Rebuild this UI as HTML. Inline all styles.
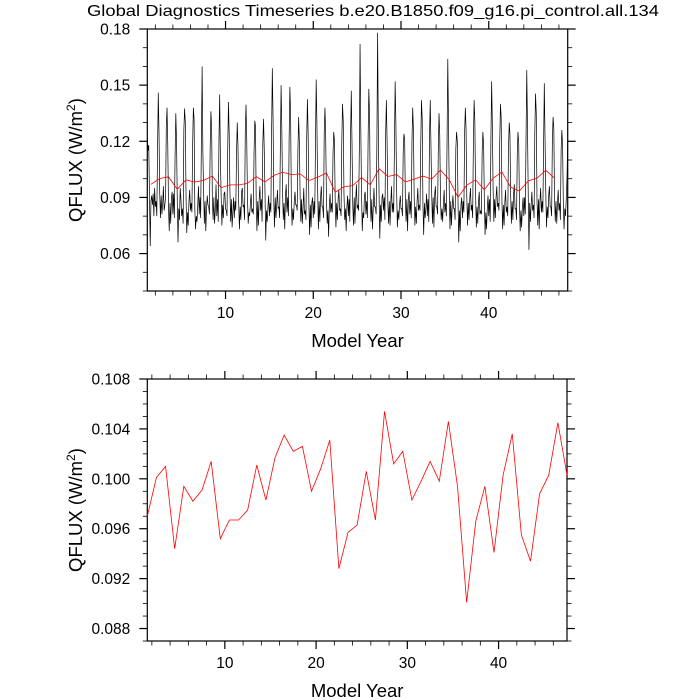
<!DOCTYPE html>
<html><head><meta charset="utf-8"><style>
html,body{margin:0;padding:0;background:#fff;}
svg{display:block;font-family:"Liberation Sans",Arial,sans-serif;}
</style></head><body>
<svg id="chart" width="700" height="700" viewBox="0 0 700 700">
<text x="373" y="16" text-anchor="middle" font-size="16" textLength="572" lengthAdjust="spacingAndGlyphs">Global Diagnostics Timeseries b.e20.B1850.f09_g16.pi_control.all.134</text>
<g id="topPanel"></g>
<g id="botPanel"></g>
</svg>
<script>
const annualYears = [];
for (let i = 1; i <= 47; i++) annualYears.push(i + 0.5);
const annualValues = [0.0970,0.1001,0.1010,0.0944,0.0994,0.0982,0.0991,0.1014,0.0952,0.0967,0.0967,0.0975,0.1011,0.0983,0.1017,0.1035,0.1022,0.1026,0.0990,0.1008,0.1031,0.0928,0.0957,0.0963,0.1006,0.0967,0.1054,0.1012,0.1022,0.0983,0.0998,0.1014,0.0998,0.1046,0.0994,0.0901,0.0966,0.0994,0.0941,0.1003,0.1036,0.0955,0.0934,0.0988,0.1003,0.1045,0.1003];
const monthlyValues = [
.122,.115,.118,.090,.064,.088,.091,.086,.092,.080,.095,.085,
.088,.080,.115,.146,.125,.092,.079,.091,.081,.086,.096,.083,
.086,.090,.128,.138,.118,.085,.072,.087,.076,.090,.093,.081,
.092,.079,.112,.135,.120,.088,.066,.084,.078,.095,.089,.080,
.084,.076,.126,.1375,.130,.090,.071,.082,.075,.088,.094,.083,
.087,.082,.118,.138,.132,.084,.073,.080,.077,.086,.096,.081,
.090,.079,.121,.160,.114,.093,.076,.088,.072,.084,.091,.086,
.085,.081,.117,.136,.127,.089,.078,.090,.076,.083,.097,.080,
.089,.077,.120,.145,.110,.091,.075,.086,.079,.092,.093,.084,
.083,.080,.116,.141,.124,.094,.077,.089,.074,.082,.090,.079,
.088,.083,.112,.130,.118,.087,.073,.085,.078,.093,.095,.085,
.086,.078,.125,.1395,.121,.090,.076,.082,.080,.087,.092,.082,
.084,.081,.114,.131,.128,.086,.072,.088,.075,.089,.096,.083,
.089,.077,.119,.132,.115,.092,.067,.083,.077,.085,.091,.080,
.087,.082,.124,.159,.133,.088,.074,.090,.079,.086,.094,.084,
.085,.079,.118,.150,.126,.093,.078,.087,.073,.091,.097,.082,
.090,.080,.122,.149,.135,.089,.075,.084,.078,.088,.093,.086,
.086,.083,.115,.133,.119,.091,.077,.089,.076,.084,.095,.081,
.083,.078,.121,.1425,.124,.087,.070,.086,.074,.087,.090,.079,
.088,.081,.117,.153,.129,.094,.073,.088,.077,.090,.096,.085,
.085,.079,.125,.138,.122,.090,.076,.083,.069,.086,.092,.082,
.087,.082,.113,.125,.120,.088,.074,.087,.078,.089,.094,.083,
.084,.080,.119,.140,.131,.092,.078,.084,.072,.085,.091,.080,
.089,.077,.123,.147,.118,.086,.075,.090,.076,.088,.097,.084,
.086,.083,.116,.172,.127,.093,.072,.082,.079,.091,.093,.081,
.088,.079,.121,.148,.134,.089,.077,.089,.073,.084,.095,.085,
.085,.081,.118,.178,.125,.091,.068,.086,.077,.090,.092,.083,
.090,.078,.124,.142,.119,.087,.076,.088,.075,.087,.096,.082,
.087,.082,.117,.152,.130,.094,.074,.083,.078,.086,.091,.084,
.084,.080,.114,.124,.121,.088,.077,.089,.072,.089,.093,.081,
.088,.079,.120,.138,.126,.091,.075,.085,.076,.088,.095,.083,
.086,.083,.118,.142,.132,.086,.070,.087,.079,.084,.092,.080,
.089,.077,.123,.142,.117,.092,.076,.090,.074,.091,.096,.085,
.085,.081,.115,.135,.123,.089,.078,.084,.077,.087,.094,.082,
.087,.080,.121,.164,.129,.093,.073,.088,.075,.085,.091,.084,
.084,.078,.116,.125,.120,.087,.066,.083,.072,.086,.090,.079,
.088,.082,.124,.138,.126,.090,.075,.087,.078,.089,.095,.083,
.086,.079,.119,.142,.131,.092,.074,.085,.076,.088,.093,.081,
.083,.081,.114,.125,.118,.088,.070,.082,.073,.084,.091,.080,
.089,.077,.122,.152,.127,.094,.077,.089,.079,.090,.096,.085,
.087,.083,.118,.140,.133,.089,.073,.086,.075,.087,.094,.082,
.085,.080,.116,.130,.124,.091,.076,.088,.078,.092,.097,.084,
.084,.078,.113,.125,.119,.086,.072,.083,.074,.085,.090,.080,
.090,.081,.121,.158,.128,.092,.062,.087,.077,.086,.093,.083,
.086,.079,.124,.1455,.135,.089,.075,.089,.073,.088,.095,.082,
.088,.082,.117,.151,.122,.093,.074,.085,.079,.091,.096,.085,
.085,.080,.120,.133,.127,.090,.077,.088,.076,.087,.094,.083,
.087,.078,.115,.126,.118,.088,.073,.084,.080,.089,.100,.120];
const topYTicks = ["0.06","0.09","0.12","0.15","0.18"];
const botYTicks = ["0.088","0.092","0.096","0.100","0.104","0.108"];
const xTickLabels = ["10","20","30","40"];

const NS = "http://www.w3.org/2000/svg";
function mk(tag, attrs, parent){const e=document.createElementNS(NS,tag);for(const k in attrs)e.setAttribute(k,attrs[k]);parent.appendChild(e);return e;}

function panel(g, box, xdom, ydom, yTicks, yMinorStep, xMinorStep, prefix){
  const sx=v=>box.l+(v-xdom[0])/(xdom[1]-xdom[0])*(box.r-box.l);
  const sy=v=>box.b-(v-ydom[0])/(ydom[1]-ydom[0])*(box.b-box.t);
  const fr=mk("rect",{x:box.l,y:box.t,width:box.r-box.l,height:box.b-box.t,fill:"none",stroke:"#000","stroke-width":1.2},g);
  
  
  for(let v=2; v<=xdom[1]; v+=xMinorStep){
    if(v<xdom[0])continue;
    const major = v%10===0;
    const len = major?8:4.5, x=sx(v);
    const t1=mk("line",{x1:x,x2:x,y1:box.b,y2:box.b+len,stroke:"#000","stroke-width":major?1.2:0.8},g);
    
    
    const t2=mk("line",{x1:x,x2:x,y1:box.t,y2:box.t-len,stroke:"#000","stroke-width":major?1.2:0.8},g);
    
    
  }
  xTickLabels.forEach(s=>{
    const t=mk("text",{x:sx(+s),y:box.b+27,"text-anchor":"middle","font-size":15.5},g);
    t.textContent=s;
    
    
  });
  const n=Math.round((ydom[1]-ydom[0])/yMinorStep);
  for(let i=0;i<=n;i++){
    const v=ydom[0]+i*yMinorStep;
    const major=yTicks.some(s=>Math.abs(+s-v)<yMinorStep/10);
    const len=major?8:4.5, y=sy(v);
    const a=mk("line",{x1:box.l,x2:box.l-len,y1:y,y2:y,stroke:"#000","stroke-width":major?1.2:0.8},g);
    
    
    const b=mk("line",{x1:box.r,x2:box.r+len,y1:y,y2:y,stroke:"#000","stroke-width":major?1.2:0.8},g);
    
    
  }
  yTicks.forEach(s=>{
    const t=mk("text",{x:box.l-17,y:sy(+s)+5.5,"text-anchor":"end","font-size":15.5},g);
    t.textContent=s;
    
    
  });
  const xt=mk("text",{x:(box.l+box.r)/2,y:box.b+56,"text-anchor":"middle","font-size":18.5},g);
  xt.textContent="Model Year";
  
  
  const cy=(box.t+box.b)/2, cx=82;
  const yt=mk("text",{x:cx,y:cy,"text-anchor":"middle","font-size":18.5,transform:"rotate(-90 "+cx+" "+cy+")"},g);
  yt.appendChild(document.createTextNode("QFLUX (W/m"));
  const sup=mk("tspan",{"baseline-shift":"super","font-size":12},yt);
  sup.textContent="2";
  yt.appendChild(document.createTextNode(")"));
  
  
  return {sx,sy};
}

const topG = document.getElementById('topPanel');
const A = panel(topG,{l:147.3,r:567.7,t:29,b:291},[1+1/12,49],[0.04,0.18],topYTicks,0.01,2,'top');
let d="";
monthlyValues.forEach((v,i)=>{const t=1+(i+1)/12; d+=(i?"L":"M")+A.sx(t).toFixed(2)+","+A.sy(v).toFixed(2);});
const ml=mk("path",{d:d,fill:"none",stroke:"#000","stroke-width":0.7},topG);


let d2="";
annualValues.forEach((v,i)=>{d2+=(i?"L":"M")+A.sx(annualYears[i]).toFixed(2)+","+A.sy(v).toFixed(2);});
const al=mk("path",{d:d2,fill:"none",stroke:"#ff0000","stroke-width":0.8},topG);



const botG = document.getElementById('botPanel');
const B = panel(botG,{l:147.3,r:567,t:379,b:641},[1.5,47.5],[0.087,0.108],botYTicks,0.001,2,'bottom');
let d3="";
annualValues.forEach((v,i)=>{d3+=(i?"L":"M")+B.sx(annualYears[i]).toFixed(2)+","+B.sy(v).toFixed(2);});
const bl=mk("path",{d:d3,fill:"none",stroke:"#ff0000","stroke-width":0.8},botG);


</script>
</body></html>
